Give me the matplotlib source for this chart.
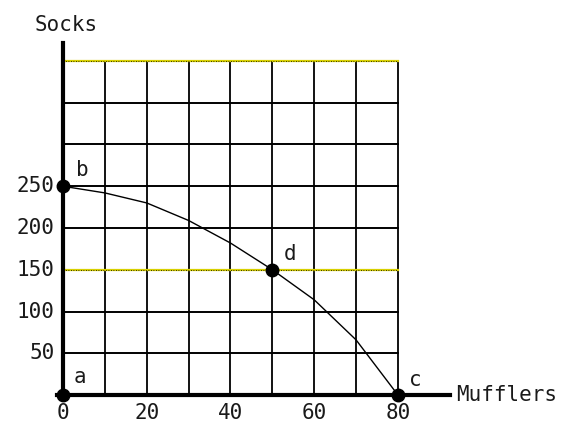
import matplotlib
matplotlib.use("Agg")
import matplotlib.pyplot as plt

# Production possibilities frontier data
mufflers = [0, 10, 20, 30, 40, 50, 60, 70, 80]
socks = [250, 242, 230, 209, 182, 150, 114, 66, 0]

# Labelled points
pt_names = ["a", "b", "d", "c"]
pt_x = [0, 0, 50, 80]
pt_y = [0, 250, 150, 0]

x_ticks = [0, 20, 40, 60, 80]
y_ticks = [50, 100, 150, 200, 250]
x_grid = list(range(10, 90, 10))
y_grid = list(range(50, 450, 50))
yellow_rows = [150, 400]

fig = plt.figure(figsize=(5.65, 4.25), dpi=100)
ax = fig.add_axes([0, 0, 1, 1])
ax.set_xlim(-15.05, 119.9)
ax.set_ylim(-35.9, 473)
ax.axis("off")

# grid
for gx in x_grid:
    ax.plot([gx, gx], [0, 400], color="black", lw=1.3, zorder=1)
for gy in y_grid:
    if gy in yellow_rows:
        ax.plot([0, 80], [gy, gy], color="#d8d000", lw=1.6, zorder=1)
        ax.plot([0, 80], [gy, gy], color="black", lw=0.6, ls=(0, (1, 2)), zorder=1)
    else:
        ax.plot([0, 80], [gy, gy], color="black", lw=1.4, zorder=1)

# axes lines
ax.plot([0, 0], [-2, 422], color="black", lw=3, zorder=3)
ax.plot([-1.5, 92.5], [0, 0], color="black", lw=3, zorder=3)

# frontier curve
ax.plot(mufflers, socks, color="black", lw=1, zorder=4)
ax.plot(pt_x, pt_y, "o", color="black", ms=9, zorder=5)

font = dict(family="DejaVu Sans Mono", fontsize=15, color="#1a1a1a")
for t in x_ticks:
    ax.text(t, -21.5, str(t), ha="center", va="center", **font)
for t in y_ticks:
    ax.text(-2.0, t, str(t), ha="right", va="center", **font)

offsets = {"a": (4, 21), "b": (4.5, 20), "d": (4.3, 19), "c": (4.2, 18)}
for name, px, py in zip(pt_names, pt_x, pt_y):
    dx, dy = offsets[name]
    ax.text(px + dx, py + dy, name, ha="center", va="center", **font)

ax.text(0.8, 443, "Socks", ha="center", va="center", **font)
ax.text(94, 0, "Mufflers", ha="left", va="center", **font)

fig.savefig("out.png", dpi=100)
